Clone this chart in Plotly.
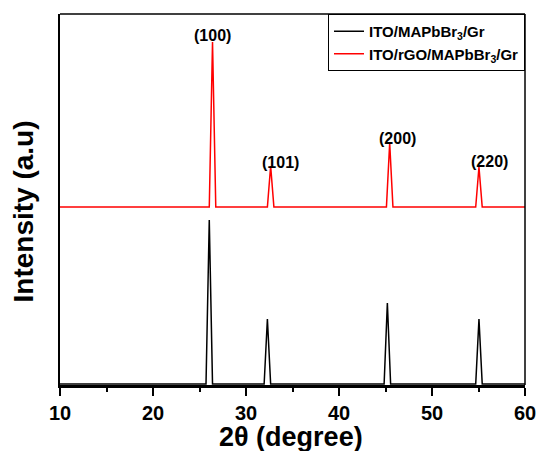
import plotly.graph_objects as go

# Black pattern: ITO/MAPbBr3/Gr
x_black = [10, 25.7, 26.05, 26.4, 31.95, 32.3, 32.65, 44.85, 45.2, 45.55, 54.7, 55.05, 55.4, 60]
y_black = [1, 1, 165, 1, 1, 66, 1, 1, 82, 1, 1, 66, 1, 1]

# Red pattern: ITO/rGO/MAPbBr3/Gr (offset)
x_red = [10, 26.05, 26.4, 26.75, 32.3, 32.65, 33.0, 45.1, 45.45, 45.8, 54.7, 55.05, 55.4, 60]
y_red = [178, 178, 343, 178, 178, 219, 178, 178, 242, 178, 178, 218, 178, 178]

# Miller index labels
hkl_labels = ["(100)", "(101)", "(200)", "(220)"]
hkl_x = [26.4, 33.7, 46.3, 56.2]
hkl_y = [350, 223, 247, 224]

x_ticks = [10, 20, 30, 40, 50, 60]

FONT = "Liberation Sans, Arial, sans-serif"

fig = go.Figure()
fig.add_trace(go.Scatter(x=x_black, y=y_black, mode="lines",
                         line=dict(color="black", width=1.5),
                         name="ITO/MAPbBr<sub>3</sub>/Gr"))
fig.add_trace(go.Scatter(x=x_red, y=y_red, mode="lines",
                         line=dict(color="#ff0000", width=1.5),
                         name="ITO/rGO/MAPbBr<sub>3</sub>/Gr"))

for t, xx, yy in zip(hkl_labels, hkl_x, hkl_y):
    fig.add_annotation(x=xx, y=yy, text=t, showarrow=False,
                       font=dict(family=FONT, size=16, color="black", weight="bold"),
                       xanchor="center", yanchor="middle")

# axis titles
fig.add_annotation(xref="paper", yref="paper", x=0.5, y=0, xanchor="center", yanchor="middle",
                   xshift=-2, yshift=-52, showarrow=False, text="2θ (degree)",
                   font=dict(family=FONT, size=27, color="black", weight="bold"))
fig.add_annotation(xref="paper", yref="paper", x=0, y=0.5, xanchor="center", yanchor="middle",
                   xshift=-37, yshift=-12, showarrow=False, text="Intensity (a.u)", textangle=-90,
                   font=dict(family=FONT, size=28, color="black", weight="bold"))

# top and right frame lines (thinner than axes)
fig.add_shape(type="line", xref="paper", yref="paper", x0=0, x1=1, y0=1, y1=1,
              line=dict(color="black", width=1.5))
fig.add_shape(type="line", xref="paper", yref="paper", x0=1, x1=1, y0=0, y1=1,
              line=dict(color="black", width=1.5))

fig.update_layout(
    width=538, height=451,
    margin=dict(l=60, r=13, t=14, b=66),
    paper_bgcolor="white", plot_bgcolor="white",
    font=dict(family=FONT, color="black"),
    showlegend=True,
    legend=dict(x=1, y=1, xanchor="right", yanchor="top",
                bordercolor="black", borderwidth=1, bgcolor="white",
                font=dict(family=FONT, size=15, weight="bold")),
    xaxis=dict(range=[10, 60], tickvals=x_ticks, ticks="outside", ticklen=8, tickwidth=1.5,
               tickcolor="black", showline=True, linecolor="black", linewidth=3,
               showgrid=False, zeroline=False, automargin=False,
               minor=dict(ticks="outside", dtick=5, ticklen=4, tickwidth=1.5, tickcolor="black", showgrid=False),
               tickfont=dict(family=FONT, size=20, weight="bold")),
    yaxis=dict(range=[0, 371], showticklabels=False, ticks="", showline=True,
               linecolor="black", linewidth=2, showgrid=False, zeroline=False, automargin=False),
)

fig.write_html("out.html")
